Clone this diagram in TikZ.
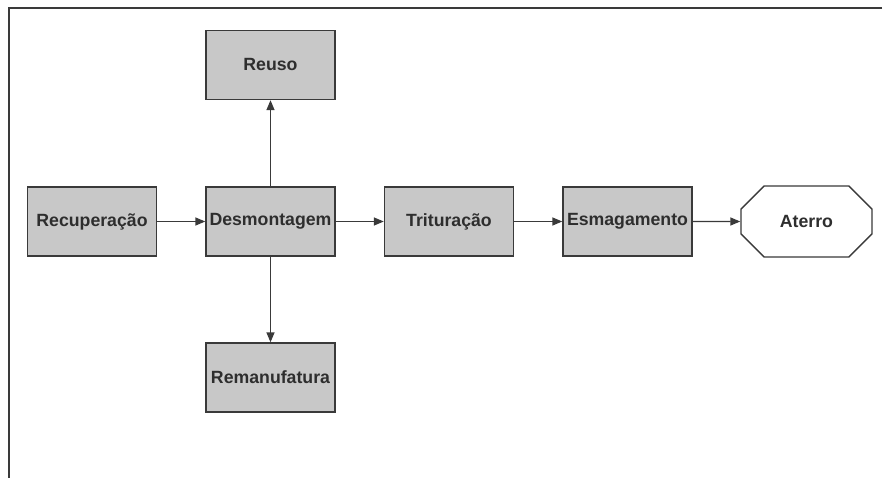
\documentclass[tikz,border=0pt]{standalone}
\usepackage{fontspec}
\setmainfont{Liberation Sans}
\usetikzlibrary{arrows.meta,shapes.misc}
\definecolor{boxfill}{HTML}{C8C8C8}
\definecolor{ink}{HTML}{3A3A3A}
\definecolor{txt}{HTML}{2E2E2E}
\begin{document}
\begin{tikzpicture}[x=1pt,y=-1pt,
  stage/.style={draw=ink, line width=1.4pt, fill=boxfill, rectangle,
    minimum width=129pt, minimum height=69pt, inner sep=0pt,
    text=txt, font=\fontsize{17.7}{20}\selectfont\bfseries},
  sink/.style={draw=ink, line width=1.4pt, fill=white, chamfered rectangle,
    chamfered rectangle xsep=16pt, chamfered rectangle ysep=17pt,
    minimum width=131pt, minimum height=71pt, inner sep=0pt,
    text=txt, font=\fontsize{17.7}{20}\selectfont\bfseries},
  flow/.style={draw=ink, line width=1.4pt, -{Triangle[length=10pt,width=8pt]}},
  frame/.style={draw=ink, line width=1.6pt}]
\useasboundingbox (0,0) rectangle (883,478);
\fill[white] (0,0) rectangle (883,478);
% open frame: top and left edges only
\coordinate (tl) at (9,8);
\coordinate (tr) at (882,8);
\coordinate (bl) at (9,478);
\draw[frame] (tr) -- (tl) -- (bl);
% stages
\node[stage] (rec) at (92,221.5) {Recupera\c{c}\~ao};
\node[stage] (des) at (270.5,221.5) {Desmontagem};
\node[stage] (tri) at (449,221.5) {Tritura\c{c}\~ao};
\node[stage] (esm) at (627.5,221.5) {Esmagamento};
\node[stage] (reu) at (270.5,65) {Reuso};
\node[stage] (rem) at (270.5,377.5) {\raisebox{-3pt}{Remanufatura}};
\node[sink] (ate) at (806.5,221.5) {Aterro};
% flows
\draw[flow] (rec) -- (des);
\draw[flow] (des) -- (tri);
\draw[flow] (tri) -- (esm);
\draw[flow] (esm) -- (ate);
\draw[flow] (des) -- (reu);
\draw[flow] (des) -- (rem);
\end{tikzpicture}
\end{document}
